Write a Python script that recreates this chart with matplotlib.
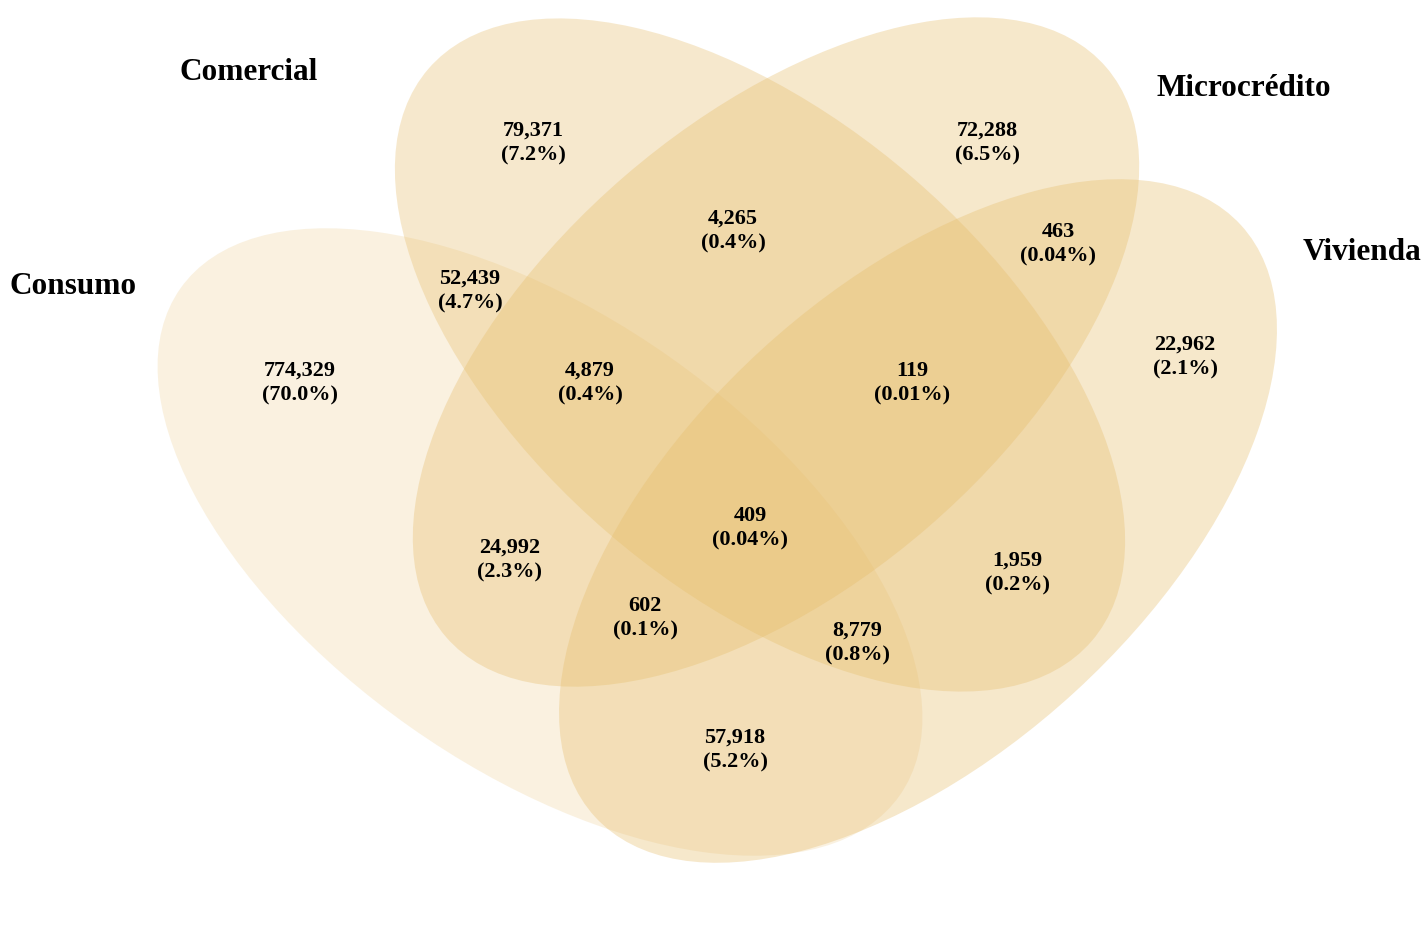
import matplotlib
matplotlib.use('Agg')
import matplotlib.pyplot as plt
from matplotlib.patches import Ellipse

# Conjuntos (etiquetas de categoria)
sets = ['Consumo', 'Comercial', 'Microcrédito', 'Vivienda']

# Regiones del diagrama (clave = conjuntos que intervienen)
regions = ['A', 'B', 'C', 'D', 'AB', 'BC', 'CD', 'AC', 'BD', 'AD',
           'ABC', 'BCD', 'ACD', 'ABD', 'ABCD']
counts = [774329, 79371, 72288, 22962, 52439, 4265, 463, 24992, 1959, 57918,
          4879, 119, 602, 8779, 409]
pcts = ['70.0%', '7.2%', '6.5%', '2.1%', '4.7%', '0.4%', '0.04%', '2.3%', '0.2%', '5.2%',
        '0.4%', '0.01%', '0.1%', '0.8%', '0.04%']

# Geometria (pixeles, y hacia abajo)
W, H = 1424, 931
ellipses = {
    'A': dict(xy=(540, 542), a=440, b=226, ang=35.2, alpha=0.20),
    'B': dict(xy=(760, 355), a=438, b=234, ang=40.8, alpha=0.33),
    'C': dict(xy=(776, 352), a=436, b=232, ang=-40.8, alpha=0.34),
    'D': dict(xy=(918, 521), a=438, b=232, ang=-42.5, alpha=0.34),
}
set_label_pos = {'A': (73, 286), 'B': (249, 73), 'C': (1244, 88), 'D': (1362, 253)}
region_pos = {
    'A': (300, 383), 'B': (533, 143), 'C': (987, 143), 'D': (1185, 357),
    'AB': (470, 291), 'BC': (733, 231), 'CD': (1058, 244), 'AC': (510, 560),
    'BD': (1017, 573), 'AD': (735, 750), 'ABC': (590, 383), 'BCD': (912, 383),
    'ACD': (645, 618), 'ABD': (857, 643), 'ABCD': (750, 528),
}

fill = '#E6BC68'
font = ['Liberation Serif', 'DejaVu Serif']

fig = plt.figure(figsize=(W / 100, H / 100), dpi=100)
ax = fig.add_axes([0, 0, 1, 1])
ax.set_xlim(0, W)
ax.set_ylim(H, 0)
ax.axis('off')

for key, e in ellipses.items():
    ax.add_patch(Ellipse(e['xy'], 2 * e['a'], 2 * e['b'], angle=e['ang'],
                         facecolor=fill, edgecolor='none', alpha=e['alpha']))

for key, name in zip('ABCD', sets):
    x, y = set_label_pos[key]
    ax.text(x, y, name, ha='center', va='center', fontsize=22.5,
            fontweight='bold', family=font, color='black')

for r, n, p in zip(regions, counts, pcts):
    x, y = region_pos[r]
    ax.text(x, y, f'{n:,}\n({p})', ha='center', va='center', fontsize=16,
            fontweight='bold', family=font, color='black', linespacing=1.3)

fig.savefig('out.png', dpi=100, facecolor='white')
